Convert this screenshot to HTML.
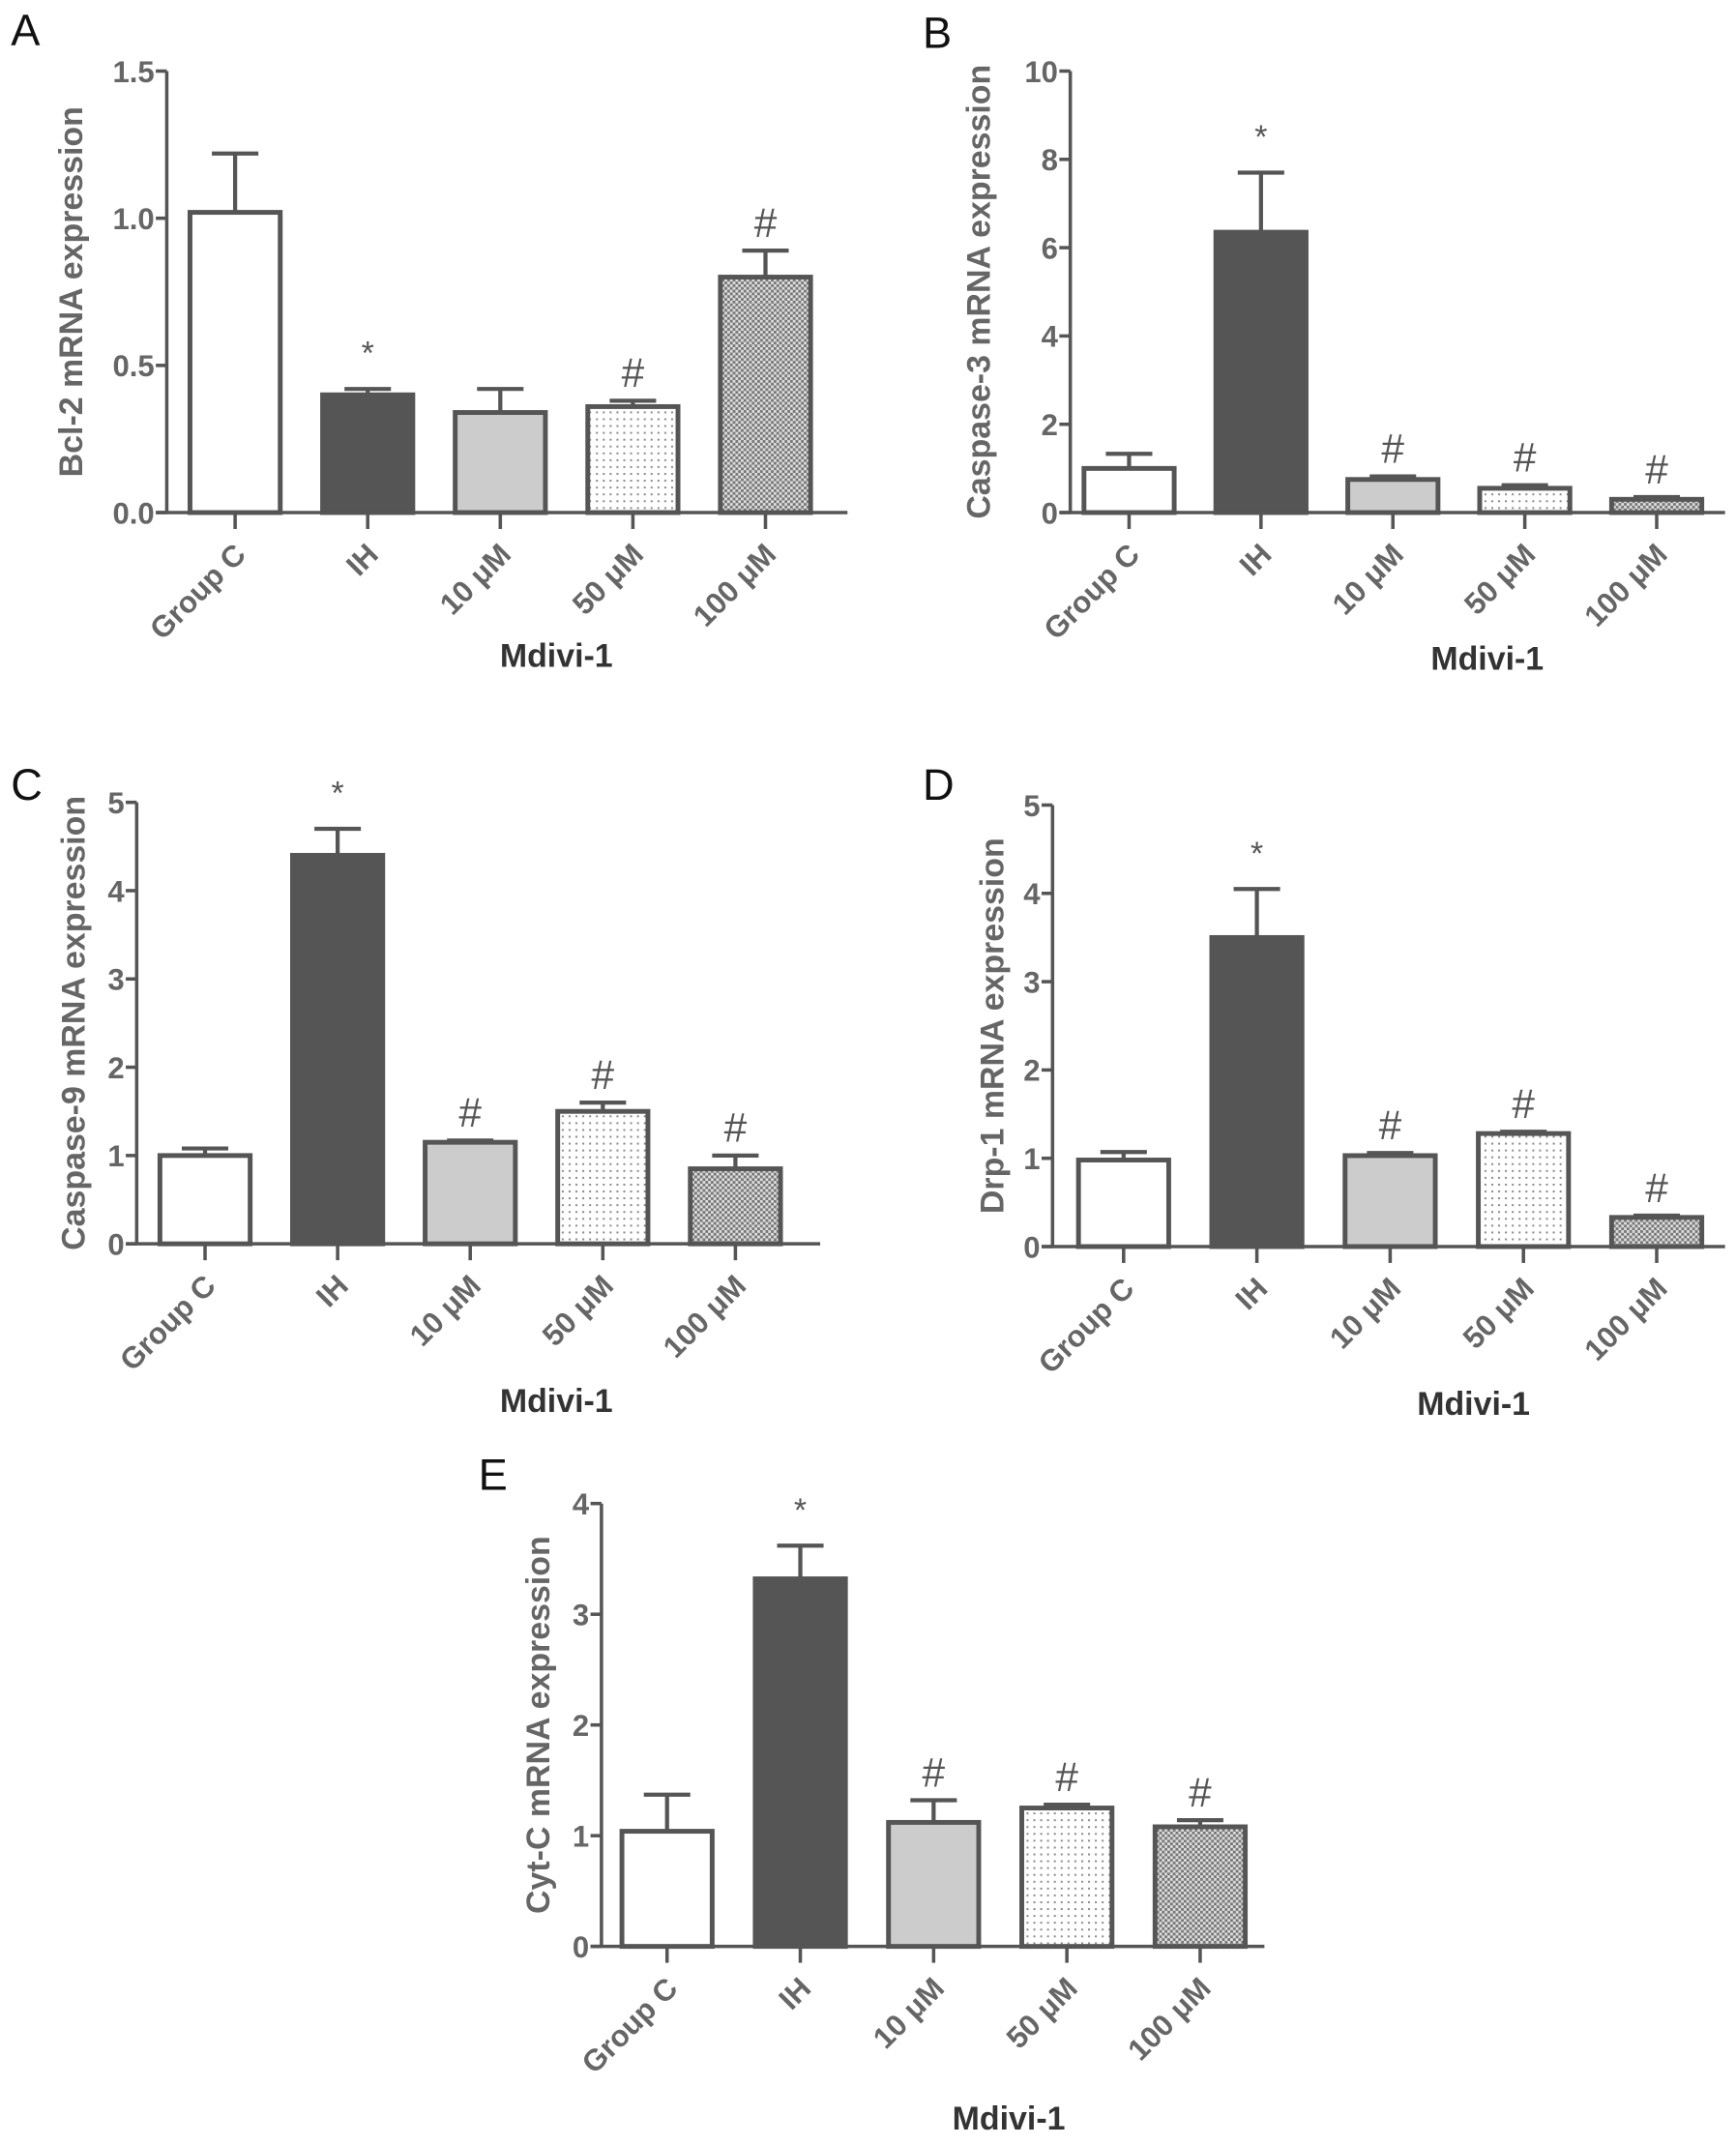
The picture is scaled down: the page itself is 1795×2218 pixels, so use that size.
<!DOCTYPE html>
<html><head><meta charset="utf-8">
<style>
html,body{margin:0;padding:0;background:#fff;}
svg{display:block;}
text{font-family:"Liberation Sans",sans-serif;}
</style></head>
<body>
<svg id="fig" width="1795" height="2218" viewBox="0 0 1270 1569.3">
<defs>
<pattern id="dots" width="5" height="5" patternUnits="userSpaceOnUse"><rect width="5" height="5" fill="#fff"/><rect x="1" y="1" width="1.4" height="1.4" fill="#888"/></pattern>
<pattern id="check" width="4" height="4" patternUnits="userSpaceOnUse"><rect width="4" height="4" fill="#ddd"/><rect x="0" y="0" width="2" height="2" fill="#777"/><rect x="2" y="2" width="2" height="2" fill="#777"/></pattern>
</defs>
</svg>
<script>
const categories = ["Group C","IH","10 μM","50 μM","100 μM"];
const bcl2Values = [1.02,0.40,0.34,0.36,0.80];
const bcl2Errors = [0.20,0.02,0.08,0.02,0.09];
const bcl2Ticks = ["0.0","0.5","1.0","1.5"];
const casp3Values = [1.0,6.35,0.75,0.55,0.30];
const casp3Errors = [0.33,1.35,0.07,0.07,0.05];
const casp3Ticks = ["0","2","4","6","8","10"];
const casp9Values = [1.0,4.4,1.15,1.5,0.85];
const casp9Errors = [0.08,0.3,0.02,0.1,0.15];
const casp9Ticks = ["0","1","2","3","4","5"];
const drp1Values = [0.98,3.5,1.03,1.28,0.33];
const drp1Errors = [0.09,0.55,0.03,0.02,0.02];
const drp1Ticks = ["0","1","2","3","4","5"];
const cytcValues = [1.04,3.32,1.12,1.25,1.08];
const cytcErrors = [0.33,0.30,0.20,0.03,0.06];
const cytcTicks = ["0","1","2","3","4"];
const bcl2Marks = ["","*","","#","#"];
const casp3Marks = ["","*","#","#","#"];
const casp9Marks = ["","*","#","#","#"];
const drp1Marks = ["","*","#","#","#"];
const cytcMarks = ["","*","#","#","#"];

const NS="http://www.w3.org/2000/svg";
const svg=document.getElementById('fig');
function mk(tag,attrs,parent){const e=document.createElementNS(NS,tag);for(const k in attrs)e.setAttribute(k,attrs[k]);(parent||svg).appendChild(e);return e;}
const fills=["#fff","#555","#ccc","url(#dots)","url(#check)"];

function panel(p){
  const g=mk('g',{});
  
  
  const tickNums=p.ticks.map(Number);
  const ymax=tickNums[tickNums.length-1];
  const y=v=>p.y0-(v/ymax)*(p.y0-p.ytop);
  const x=i=>p.c0+i*p.step;
  const L=mk('text',{x:p.lx,y:p.ly,'font-size':32,fill:'#111'},g);L.textContent=p.letter;
  
  
  p.values.forEach((v,i)=>{
    const bw=66, cx=x(i), top=y(v+p.errors[i]);
    const el=mk('line',{x1:cx,x2:cx,y1:y(v),y2:top,stroke:'#555','stroke-width':3},g);
    
    
    const cap=mk('line',{x1:cx-17,x2:cx+17,y1:top,y2:top,stroke:'#555','stroke-width':3},g);
    
    
    const r=mk('rect',{x:cx-bw/2,y:y(v),width:bw,height:p.y0-y(v),fill:fills[i],stroke:'#555','stroke-width':3.5},g);
    
    
    if(p.marks[i]){
      const star=p.marks[i]==='*';
      const t=mk('text',{x:cx,y:top-(star?18:10),'text-anchor':'middle','font-size':star?24:30,fill:'#555'},g);
      t.textContent=p.marks[i];
      
      
    }
    const tk=mk('line',{x1:cx,x2:cx,y1:p.y0,y2:p.y0+12,stroke:'#555','stroke-width':2.5},g);
    
    
    const lb=mk('text',{x:0,y:0,'text-anchor':'end','font-size':22,'font-weight':'bold',fill:'#666',transform:`translate(${cx+9},${p.y0+32}) rotate(-45)`},g);
    lb.textContent=categories[i];
    
    
  });
  const ya=mk('line',{x1:p.ax,x2:p.ax,y1:p.ytop,y2:p.y0,stroke:'#555','stroke-width':2.5},g);
  
  
  const xa=mk('line',{x1:p.ax-8,x2:p.xend,y1:p.y0,y2:p.y0,stroke:'#555','stroke-width':2.5},g);
  
  
  p.ticks.forEach((t,i)=>{
    const yy=y(tickNums[i]);
    const tl=mk('line',{x1:p.ax-8,x2:p.ax,y1:yy,y2:yy,stroke:'#555','stroke-width':2.5},g);
    
    
    const tt=mk('text',{x:p.ax-9,y:yy+8,'text-anchor':'end','font-size':22,'font-weight':'bold',fill:'#666'},g);
    tt.textContent=t;
    
    
  });
  const yt=mk('text',{x:0,y:0,'text-anchor':'middle','font-size':24,'font-weight':'bold',fill:'#666',transform:`translate(${p.ytx},${(p.ytop+p.y0)/2}) rotate(-90)`},g);
  yt.textContent=p.ytitle;
  
  
  const xt=mk('text',{x:p.mx,y:p.my,'text-anchor':'middle','font-size':24,'font-weight':'bold',fill:'#333'},g);
  xt.textContent='Mdivi-1';
  
  
}
panel({letter:'A',lx:8,ly:33,ax:122,ytop:52,y0:375,xend:620,c0:172,step:97,values:bcl2Values,errors:bcl2Errors,ticks:bcl2Ticks,marks:bcl2Marks,ytitle:'Bcl-2 mRNA expression',ytx:60,mx:407,my:488});
panel({letter:'B',lx:675,ly:35,ax:783,ytop:52,y0:375,xend:1262,c0:826,step:96.5,values:casp3Values,errors:casp3Errors,ticks:casp3Ticks,marks:casp3Marks,ytitle:'Caspase-3 mRNA expression',ytx:724,mx:1088,my:490});
panel({letter:'C',lx:8,ly:585,ax:100,ytop:587,y0:910,xend:600,c0:150,step:97,values:casp9Values,errors:casp9Errors,ticks:casp9Ticks,marks:casp9Marks,ytitle:'Caspase-9 mRNA expression',ytx:62,mx:407,my:1033});
panel({letter:'D',lx:675,ly:585,ax:770,ytop:589,y0:912,xend:1262,c0:822,step:97.5,values:drp1Values,errors:drp1Errors,ticks:drp1Ticks,marks:drp1Marks,ytitle:'Drp-1 mRNA expression',ytx:734,mx:1078,my:1035});
panel({letter:'E',lx:350,ly:1090,ax:440,ytop:1100,y0:1424,xend:925,c0:488,step:97.5,values:cytcValues,errors:cytcErrors,ticks:cytcTicks,marks:cytcMarks,ytitle:'Cyt-C mRNA expression',ytx:402,mx:738,my:1558});
</script>
</body></html>
